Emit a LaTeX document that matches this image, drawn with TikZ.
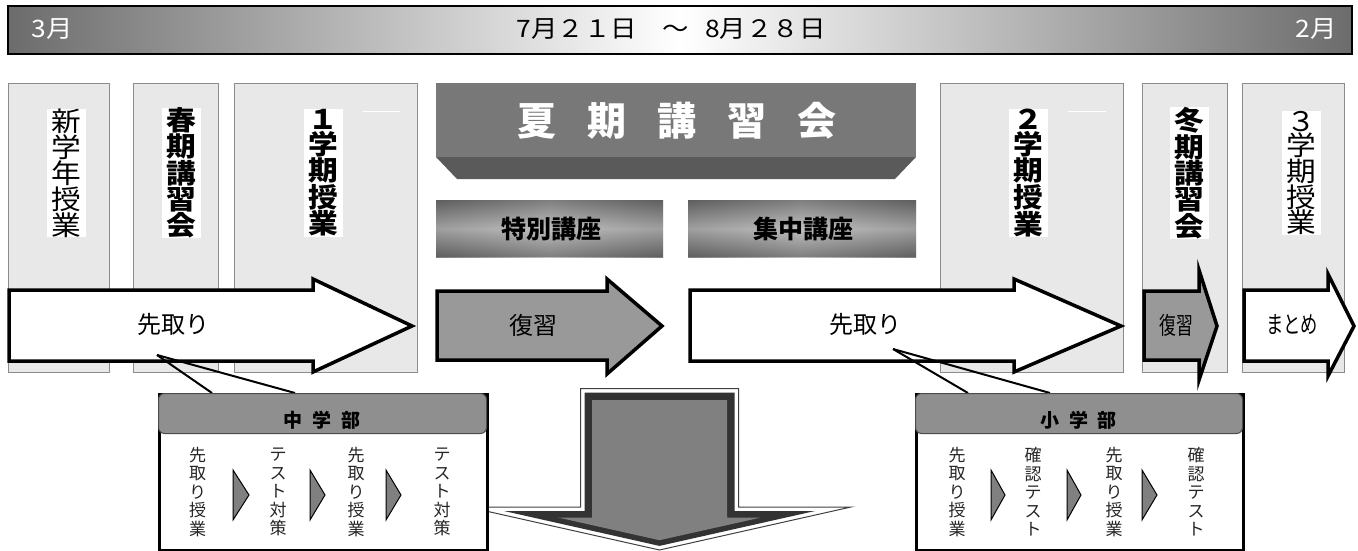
\documentclass[tikz,border=0pt]{standalone}
\usepackage{fontspec}
\usepackage{graphicx}
\newfontfamily\jp{Noto Sans CJK JP}
\newfontfamily\jpw[FakeStretch=1.1]{Noto Sans CJK JP}
\newfontfamily\jpt[FakeStretch=1.1]{Noto Sans CJK JP}
\definecolor{colfill}{HTML}{E8E8E8}
\definecolor{colline}{HTML}{8C8C8C}
\definecolor{arrgray}{HTML}{999999}
\definecolor{hdrgray}{HTML}{8F8F8F}
\definecolor{bannertop}{HTML}{787878}
\definecolor{bannerbot}{HTML}{5A5A5A}
\definecolor{barend}{HTML}{6C6C6C}
\definecolor{kgray}{HTML}{7F7F7F}
\definecolor{darrow}{HTML}{333333}
\definecolor{darrowin}{HTML}{808080}
\tikzset{
  colbox/.style={draw=colline, line width=0.8pt, fill=colfill, inner sep=0pt, anchor=north west, minimum height=289pt},
  vlabel/.style={fill=white, inner sep=0pt, minimum width=39pt, minimum height=124pt, align=center, font=\jpw\fontsize{27}{24.5}\selectfont},
  vlabelb/.style={vlabel, font=\jpw\bfseries\fontsize{27}{24.5}\selectfont},
  bigarrow/.style={draw=black, line width=3.5pt, line join=miter, miter limit=10},
  arrtext/.style={inner sep=0pt, font=\jp\fontsize{24}{24}\selectfont},
  toptext/.style={inner sep=0pt, font=\jpt\fontsize{24}{24}\selectfont},
  kbox/.style={inner sep=0pt, anchor=north west, minimum width=227pt, minimum height=57pt},
  ktext/.style={inner sep=0pt, font=\jp\bfseries\fontsize{25}{25}\selectfont},
  cbody/.style={draw=black, line width=2.5pt, fill=white, inner sep=0pt, anchor=north west, minimum width=328pt, minimum height=156pt},
  chead/.style={draw=black!70, line width=1pt, fill=hdrgray, rounded corners=6pt, inner sep=0pt, anchor=north west, minimum width=328pt, minimum height=40pt},
  headtext/.style={inner sep=0pt, font=\jp\bfseries\fontsize{19}{19}\selectfont},
  stext/.style={inner sep=0pt, align=center, text=black!85, font=\jp\fontsize{17}{18.5}\selectfont},
  stri/.style={draw=black, line width=1pt, fill=darrowin, line join=miter},
  pointer/.style={draw=black, line width=2pt},
}
\begin{document}
\begin{tikzpicture}[x=1pt,y=-1pt]
\useasboundingbox (0,0) rectangle (1358,551);
% top bar
\node[draw=black, line width=2pt, left color=barend, right color=barend, middle color=white, inner sep=0pt, anchor=north west, minimum width=1344pt, minimum height=48pt] (bar) at (7,5) {};
\node[toptext, text=white] (m3) at (52,29) {3月};
\node[toptext] (dates) at (671,29) {7月２１日\hspace{26pt}～\hspace{16pt}8月２８日};
\node[toptext, text=white] (m2) at (1316,29) {2月};
% columns
\node[colbox, minimum width=101pt] (c1) at (8,83) {};
\node[colbox, minimum width=85pt] (c2) at (133,83) {};
\node[colbox, minimum width=183pt] (c3) at (234,83) {};
\node[colbox, minimum width=183pt] (c4) at (940,83) {};
\node[colbox, minimum width=85pt] (c5) at (1142,83) {};
\node[colbox, minimum width=102pt] (c6) at (1242,83) {};
\draw[white, line width=1pt] (363,111) -- (400,111);
\draw[white, line width=1pt] (1068,111) -- (1106,111);
% column labels
\node[vlabel] (l1) at (66.5,173) {新\\学\\年\\授\\業};
\node[vlabelb] (l2) at (181.5,173) {春\\期\\講\\習\\会};
\node[vlabelb] (l3) at (323.5,173) {１\\学\\期\\授\\業};
\node[vlabelb] (l4) at (1028.5,173) {２\\学\\期\\授\\業};
\node[vlabelb] (l5) at (1189.5,173) {冬\\期\\講\\習\\会};
\node[vlabel] (l6) at (1301.5,173) {３\\学\\期\\授\\業};
% summer banner
\fill[bannerbot] (436,157) -- (916,157) -- (895,179) -- (457,179) -- cycle;
\node[fill=bannertop, inner sep=0pt, anchor=north west, minimum width=480pt, minimum height=74pt] (summer) at (436,83) {};
\node[inner sep=0pt, text=white, font=\jp\bfseries\fontsize{39}{39}\selectfont] (summertext) at (677,121) {夏\hspace{31pt}期\hspace{31pt}講\hspace{31pt}習\hspace{31pt}会};
% special courses
\node[kbox, left color=kgray, right color=kgray, middle color=white] (k1bg) at (436,200) {};
\fill[top color=kgray, bottom color=kgray, middle color=white, opacity=0.5] (436,200) rectangle (663,257);
\node[ktext] (k1) at (551,229) {特別講座};
\node[kbox, left color=kgray, right color=kgray, middle color=white, minimum width=228pt] (k2bg) at (688,200) {};
\fill[top color=kgray, bottom color=kgray, middle color=white, opacity=0.5] (688,200) rectangle (916,257);
\node[ktext] (k2) at (803,229) {集中講座};
% arrows
\draw[bigarrow, fill=white] (9,290) -- (313,290) -- (313,279) -- (412,326) -- (313,372) -- (313,361) -- (9,361) -- cycle;
\node[arrtext] (a1) at (173,324) {先取り};
\draw[bigarrow, fill=arrgray] (437,291) -- (607,291) -- (607,279) -- (662,326) -- (607,374) -- (607,360) -- (437,360) -- cycle;
\node[arrtext] (a2) at (533,325) {復習};
\draw[bigarrow, fill=white] (690,290) -- (1014,290) -- (1014,279) -- (1121,326) -- (1014,372) -- (1014,361) -- (690,361) -- cycle;
\node[arrtext] (a3) at (865,324) {先取り};
\draw[bigarrow, fill=arrgray] (1144,291) -- (1199,291) -- (1199,270) -- (1217,326) -- (1199,380) -- (1199,360) -- (1144,360) -- cycle;
\node[arrtext] (a4) at (1176,325) {\scalebox{0.7}[1]{復習}};
\draw[bigarrow, fill=white] (1244,290) -- (1328,290) -- (1328,274) -- (1354,326) -- (1328,376) -- (1328,361) -- (1244,361) -- cycle;
\node[arrtext] (a5) at (1292,325) {\scalebox{0.72}[1]{まとめ}};
% big down arrow
\draw[draw=black!75, line width=1pt, fill=white] (580.5,388.5) -- (738.5,388.5) -- (738.5,507) -- (851,507) -- (659.5,550) -- (468,507) -- (580.5,507) -- cycle;
\fill[darrow] (584.5,392.5) -- (734.5,392.5) -- (734.5,511) -- (815,511) -- (659.5,545.9) -- (504,511) -- (584.5,511) -- cycle;
\fill[darrowin] (592,400) -- (727,400) -- (727,517.5) -- (761,517.5) -- (659.5,540.2) -- (558,517.5) -- (592,517.5) -- cycle;
% junior high callout
\coordinate (t1) at (157,355);
\coordinate (t1a) at (212,393);
\coordinate (t1b) at (295,393);
\draw[pointer] (t1) -- (t1a);
\draw[pointer] (t1) -- (t1b);
\node[cbody] (jbox) at (158,393) {};
\node[chead] (jhead) at (158,393) {};
\node[headtext] (jt) at (322,420) {中\hspace{10pt}学\hspace{10pt}部};
\node[stext] (j1) at (197.5,492) {先\\取\\り\\授\\業};
\node[stext] (j2) at (278,492) {テ\\ス\\ト\\対\\策};
\node[stext] (j3) at (356,492) {先\\取\\り\\授\\業};
\node[stext] (j4) at (442,492) {テ\\ス\\ト\\対\\策};
\draw[stri] (233,470) -- (249,495) -- (233,520) -- cycle;
\draw[stri] (310,470) -- (325,495) -- (310,520) -- cycle;
\draw[stri] (386,470) -- (401,495) -- (386,520) -- cycle;
% elementary callout
\coordinate (t2) at (893,349);
\coordinate (t2a) at (968,393);
\coordinate (t2b) at (1050,393);
\draw[pointer] (t2) -- (t2a);
\draw[pointer] (t2) -- (t2b);
\node[cbody, minimum width=327pt] (ebox) at (915,393) {};
\node[chead, minimum width=327pt] (ehead) at (915,393) {};
\node[headtext] (et) at (1078.5,420) {小\hspace{10pt}学\hspace{10pt}部};
\node[stext] (e1) at (957,492) {先\\取\\り\\授\\業};
\node[stext] (e2) at (1033,492) {確\\認\\テ\\ス\\ト};
\node[stext] (e3) at (1114,492) {先\\取\\り\\授\\業};
\node[stext] (e4) at (1196,492) {確\\認\\テ\\ス\\ト};
\draw[stri] (991,470) -- (1005,495) -- (991,520) -- cycle;
\draw[stri] (1067,470) -- (1081,495) -- (1067,520) -- cycle;
\draw[stri] (1142,470) -- (1157,495) -- (1142,520) -- cycle;
\end{tikzpicture}
\end{document}
